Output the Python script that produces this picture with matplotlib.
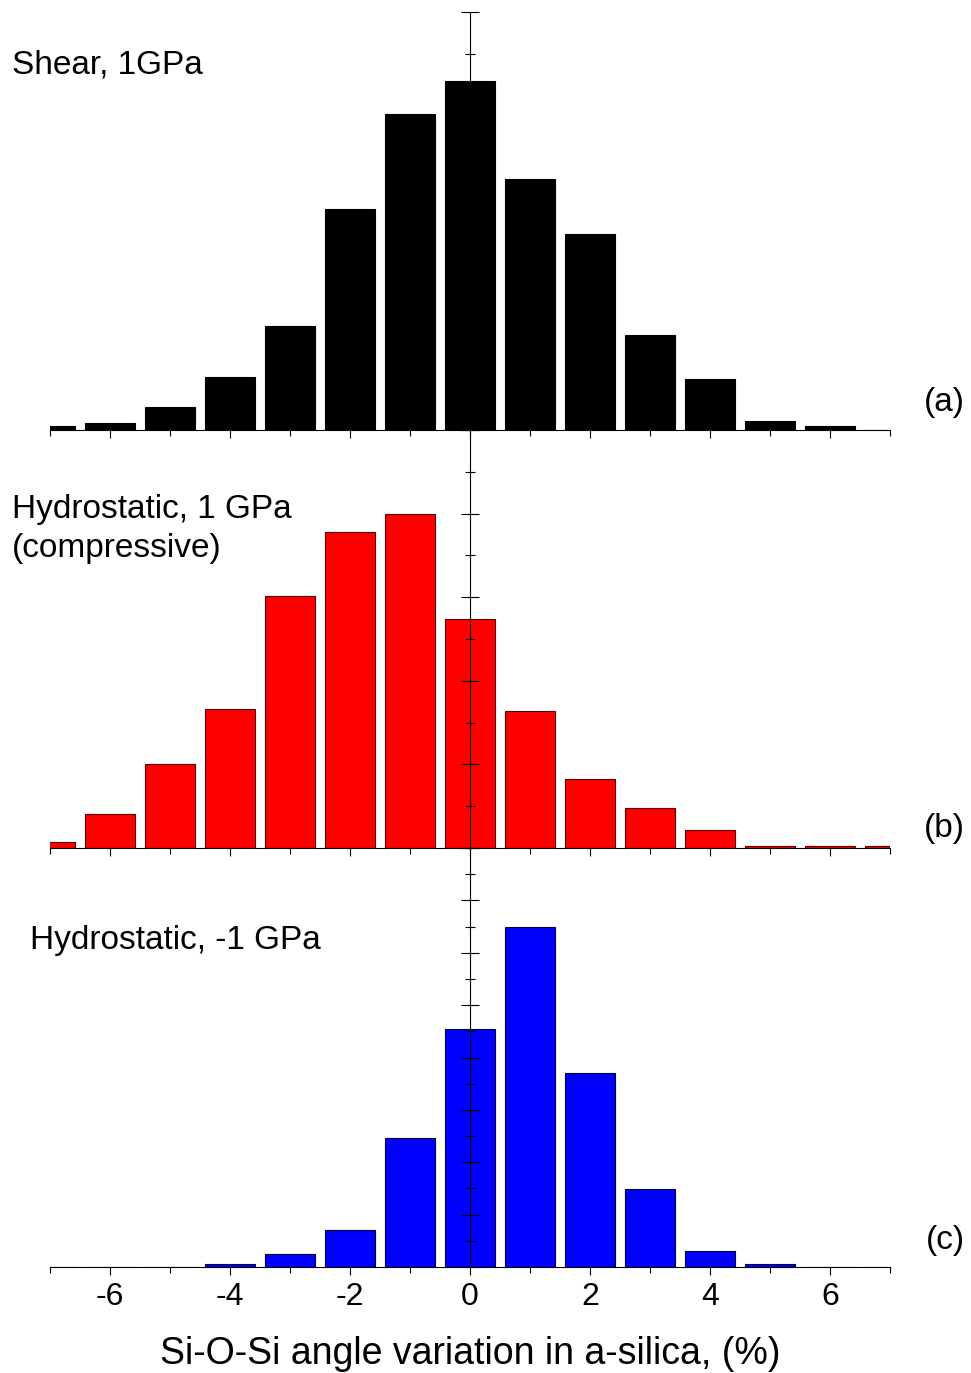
import numpy as np
import matplotlib; matplotlib.use("Agg")
import matplotlib.pyplot as plt
from matplotlib.ticker import MultipleLocator

plt.rcParams["font.family"] = ["Liberation Sans", "DejaVu Sans"]
plt.rcParams["axes.unicode_minus"] = False

# ─── Data: Si-O-Si angle variation histograms (arbitrary units) ─────────────
angle = np.arange(-7, 8)   # bin centres, %

shear_1gpa = [0.24, 0.42, 1.38, 3.17, 6.22, 13.2, 18.9, 20.9,
              15.0, 11.7, 5.7, 3.05, 0.54, 0.24, 0.0]
hydro_pos  = [0.36, 2.03, 5.02, 8.31, 15.07, 18.9, 19.98, 13.7,
              8.19, 4.13, 2.39, 1.08, 0.12, 0.12, 0.12]
hydro_neg  = [0.0, 0.0, 0.0, 0.11, 0.5, 1.42, 4.94, 9.07,
              13.0, 7.39, 2.99, 0.61, 0.11, 0.0, 0.0]

labels = ["Shear, 1GPa", "Hydrostatic, 1 GPa\n(compressive)", "Hydrostatic, -1 GPa"]
tags   = ["(a)", "(b)", "(c)"]

W, H = 971, 1373
fig = plt.figure(figsize=(W/100, H/100), dpi=100)

def px_axes(top, bottom):
    return fig.add_axes([50/W, 1 - bottom/H, 840/W, (bottom - top)/H])

panels = [
    (px_axes(12, 430),   shear_1gpa, "black",   "black",   25, 5, 2.5, 3),
    (px_axes(430, 848),  hydro_pos,  "#ff0000", "#5a0000", 25, 5, 2.5, 1),
    (px_axes(848, 1267), hydro_neg,  "#0000ff", "#000040", 16, 2, 1,   1),
]

for i, (ax, vals, fc, ec, ytop, ymaj, ymin, z) in enumerate(panels):
    ax.bar(angle, vals, width=0.82, color=fc, edgecolor=ec, linewidth=0.8, zorder=z)
    ax.set_xlim(-7, 7); ax.set_ylim(0, ytop)
    ax.patch.set_alpha(0)
    for s in ("top", "right"):
        ax.spines[s].set_visible(False)
    ax.spines["left"].set_position(("data", 0))
    ax.spines["left"].set_linewidth(0.8)
    ax.spines["bottom"].set_linewidth(0.8)
    ax.yaxis.set_major_locator(MultipleLocator(ymaj))
    ax.yaxis.set_minor_locator(MultipleLocator(ymin))
    ax.tick_params(axis="y", which="major", direction="inout", length=12.5, width=0.8, labelleft=False)
    ax.tick_params(axis="y", which="minor", direction="inout", length=6.5, width=0.8)
    ax.xaxis.set_major_locator(MultipleLocator(2))
    ax.xaxis.set_minor_locator(MultipleLocator(1))
    ax.tick_params(axis="x", which="major", direction="out", length=6, width=0.8,
                   labelsize=23, pad=5, labelbottom=(i == 2))
    ax.tick_params(axis="x", which="minor", direction="out", length=4, width=0.8)

axes = [p[0] for p in panels]
axes[2].set_xlabel("Si-O-Si angle variation in a-silica, (%)", fontsize=27, labelpad=17)

# panel annotations, positioned in figure pixels
fig.text(12/W, 1 - 65/H, labels[0], fontsize=24, va="center", ha="left")
fig.text(12/W, 1 - 529/H, labels[1], fontsize=24, va="center", ha="left", linespacing=1.35)
fig.text(30/W, 1 - 940/H, labels[2], fontsize=24, va="center", ha="left")
for tag, y in zip(tags, [403, 828, 1241]):
    fig.text(965/W, 1 - y/H, tag, fontsize=24, va="center", ha="right")

plt.savefig("out.png", dpi=100)
plt.close()
